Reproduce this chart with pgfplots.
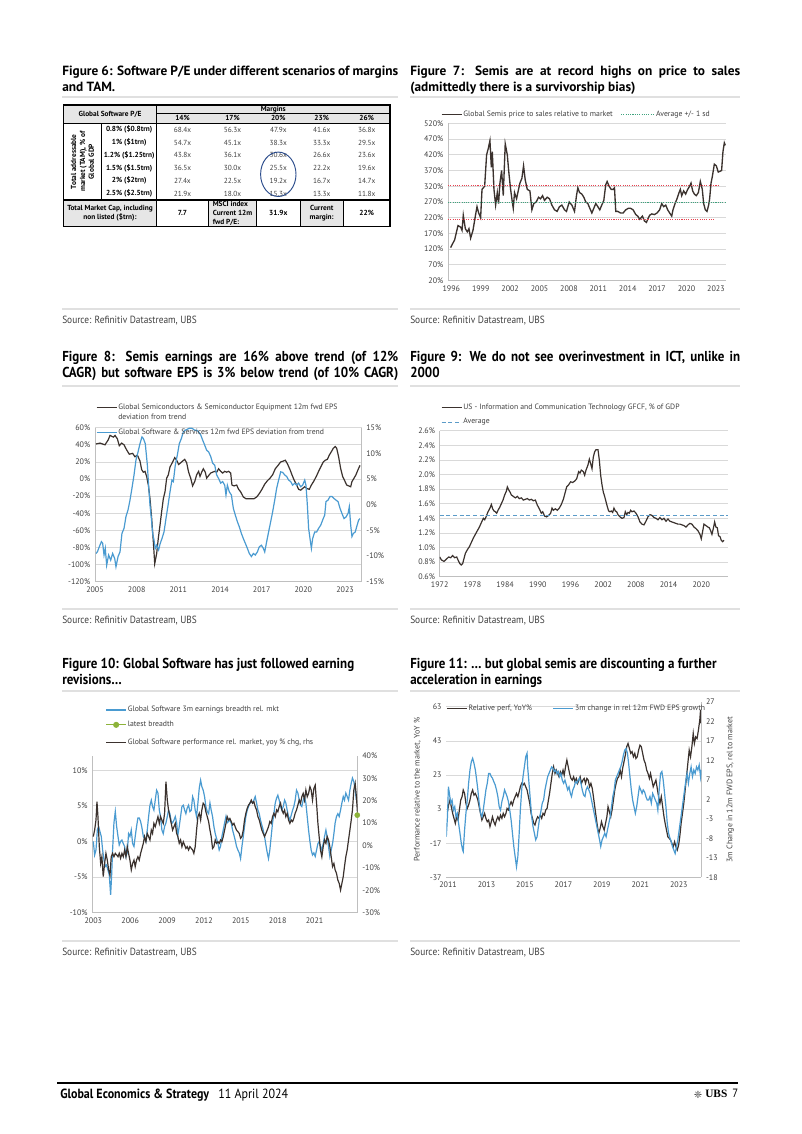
\documentclass[border=0pt]{standalone}
\usepackage{pgfplots}
\pgfplotsset{compat=1.18}
\usepackage{fontspec}
\setmainfont{PT Sans}
\newfontfamily\condfont[FakeStretch=0.9]{PT Sans}
\newfontfamily\dejavu{DejaVu Sans}
\newfontfamily\ubsfont{Liberation Serif}
\definecolor{dk}{HTML}{3B322E}
\definecolor{bl}{HTML}{4A9BD1}
\definecolor{gr}{HTML}{D9D9D9}
\definecolor{ax}{HTML}{BFBFBF}
\definecolor{tx}{HTML}{404040}
\definecolor{avgreen}{HTML}{3FA37E}
\definecolor{avred}{HTML}{E8414F}
\definecolor{lgreen}{HTML}{8DB33A}
\definecolor{avblue}{HTML}{5B9BC8}
\definecolor{hdr}{HTML}{E6E6E6}
\definecolor{circ}{HTML}{2B4C8C}
\definecolor{sep}{HTML}{E0E0E0}
\newcommand\tickfont{\fontsize{6}{7}\selectfont}
\newcommand\legfont{\fontsize{5.8}{7}\selectfont}
\newcommand\tabfont{\fontsize{5.5}{6.6}\selectfont}
\newcommand\titlefont{\fontsize{10}{12}\selectfont\bfseries}
\newcommand\ctitlefont{\condfont\fontsize{10.8}{12}\selectfont\bfseries}
\newcommand\srcfont{\condfont\fontsize{7.8}{9}\selectfont}
\pgfplotsset{
 ubs/.style={
  scale only axis,
  axis line style={draw=ax, line width=0.6pt, -},
  major tick length=0pt,
  ymajorgrids, grid style={draw=gr, line width=0.6pt},
  tick label style={font=\tickfont, text=tx},
  label style={font=\tickfont, text=tx},
  /pgf/number format/assume math mode=true,
  /pgf/number format/1000 sep={},
  legend style={draw=none, fill=none, font=\legfont, text=tx, inner sep=0pt, outer sep=0pt, nodes={inner sep=0.8pt}},
  legend cell align=left,
  legend image code/.code={\draw[##1] (0pt,0pt) -- (15pt,0pt);},
 },
 longlegend/.style={legend image code/.code={\draw[##1] (0pt,0pt) -- (25pt,0pt);}},
 dotlegend/.style={legend image code/.code={\draw[mark repeat=2,mark phase=2,##1] plot coordinates {(0pt,0pt)(7.5pt,0pt)(15pt,0pt)};}},
}
\begin{document}
\begin{tikzpicture}[x=0.75pt,y=0.75pt]
\fill[white] (0,0) rectangle (802,-1134);
% ---------- titles ----------
\node[anchor=base west, inner sep=0pt, font=\titlefont] at (62,-75.5) {\makebox[252pt][s]{Figure 6: Software P/E under different scenarios of margins}};
\node[anchor=base west, inner sep=0pt, font=\titlefont] at (62,-91.5) {and TAM.};
\node[anchor=base west, inner sep=0pt, font=\titlefont] at (410,-75.5) {\makebox[247.5pt][s]{Figure 7: Semis are at record highs on price to sales}};
\node[anchor=base west, inner sep=0pt, font=\titlefont] at (410,-91.5) {(admittedly there is a survivorship bias)};
\node[anchor=base west, inner sep=0pt, font=\ctitlefont] at (62,-361.5) {\makebox[252pt][s]{Figure 8: Semis earnings are 16\% above trend (of 12\%}};
\node[anchor=base west, inner sep=0pt, font=\ctitlefont] at (62,-377.5) {\makebox[252pt][s]{CAGR) but software EPS is 3\% below trend (of 10\% CAGR)}};
\node[anchor=base west, inner sep=0pt, font=\ctitlefont] at (410,-361.5) {\makebox[247.5pt][s]{Figure 9: We do not see overinvestment in ICT, unlike in}};
\node[anchor=base west, inner sep=0pt, font=\ctitlefont] at (410,-377.5) {2000};
\node[anchor=base west, inner sep=0pt, font=\ctitlefont] at (62,-668.5) {Figure 10: Global Software has just followed earning};
\node[anchor=base west, inner sep=0pt, font=\ctitlefont] at (62,-684.5) {revisions…};
\node[anchor=base west, inner sep=0pt, font=\ctitlefont] at (410,-668.5) {Figure 11: … but global semis are discounting a further};
\node[anchor=base west, inner sep=0pt, font=\ctitlefont] at (410,-684.5) {acceleration in earnings};
% ---------- separators ----------
\foreach \yy in {97,309,386,609,691,941}{
  \draw[sep, line width=1.1pt] (62,-\yy) -- (398,-\yy);
  \draw[sep, line width=1.1pt] (410,-\yy) -- (740,-\yy);
}
% ---------- sources ----------
\foreach \yy in {321,621,953}{
  \node[anchor=west, inner sep=0pt, font=\srcfont, text=tx] at (62,-\yy) {Source: Refinitiv Datastream, UBS};
  \node[anchor=west, inner sep=0pt, font=\srcfont, text=tx] at (410,-\yy) {Source: Refinitiv Datastream, UBS};
}
% ---------- table (Figure 6) ----------
\fill[hdr] (63.3,-105) rectangle (390,-123.3);
\fill[hdr] (63.3,-200) rectangle (156.7,-226.7);
\fill[hdr] (208.3,-200) rectangle (256.7,-226.7);
\fill[hdr] (300,-200) rectangle (343.3,-226.7);
\draw[black, line width=0.45pt] (156.7,-113.3) -- (390,-113.3);
\draw[black, line width=0.45pt] (101.7,-123.3) -- (101.7,-200);
\draw[black, line width=0.45pt] (208.3,-200) -- (208.3,-226.7);
\draw[black, line width=0.45pt] (256.7,-200) -- (256.7,-226.7);
\draw[black, line width=0.45pt] (300,-200) -- (300,-226.7);
\draw[black, line width=0.45pt] (343.3,-200) -- (343.3,-226.7);
\draw[black, line width=0.8pt] (156.7,-105) -- (156.7,-226.7);
\draw[black, line width=0.8pt] (63.3,-123.3) -- (390,-123.3);
\draw[black, line width=0.8pt] (63.3,-200) -- (390,-200);
\draw[black, line width=1pt] (63.3,-105) rectangle (390,-226.7);
\node[font=\tabfont\bfseries] at (110,-114.2) {Global Software P/E};
\node[font=\tabfont\bfseries] at (273.3,-109.2) {Margins};
\node[font=\tabfont\bfseries] at (182.5,-118.3) {14\%};
\node[font=\tabfont\bfseries] at (232.5,-118.3) {17\%};
\node[font=\tabfont\bfseries] at (278.3,-118.3) {20\%};
\node[font=\tabfont\bfseries] at (321.7,-118.3) {23\%};
\node[font=\tabfont\bfseries] at (366.7,-118.3) {26\%};
\node[font=\tabfont\bfseries, rotate=90, align=center, inner sep=0pt] at (82.5,-161.7) {Total addressable\\market (TAM), \% of\\Global GDP};
\foreach \lab/\a/\b/\c/\d/\e [count=\i from 0] in {
 {0.8\% (\$0.8trn)}/68.4x/56.3x/47.9x/41.6x/36.8x,
 {1\% (\$1trn)}/54.7x/45.1x/38.3x/33.3x/29.5x,
 {1.2\% (\$1.25trn)}/43.8x/36.1x/30.6x/26.6x/23.6x,
 {1.5\% (\$1.5trn)}/36.5x/30.0x/25.5x/22.2x/19.6x,
 {2\% (\$2trn)}/27.4x/22.5x/19.2x/16.7x/14.7x,
 {2.5\% (\$2.5trn)}/21.9x/18.0x/15.3x/13.3x/11.8x}{
  \pgfmathsetmacro\yy{-129.7-12.78*\i}
  \node[font=\tabfont\bfseries] at (129.2,\yy) {\lab};
  \node[font=\tabfont, text=tx] at (182.5,\yy) {\a};
  \node[font=\tabfont, text=tx] at (232.5,\yy) {\b};
  \node[font=\tabfont, text=tx] at (278.3,\yy) {\c};
  \node[font=\tabfont, text=tx] at (321.7,\yy) {\d};
  \node[font=\tabfont, text=tx] at (366.7,\yy) {\e};
}
\node[font=\tabfont\bfseries, align=center] at (110,-213.3) {Total Market Cap, including\\non listed (\$trn):};
\node[font=\tabfont\bfseries] at (182.5,-213.3) {7.7};
\node[font=\tabfont\bfseries, align=left] at (232.5,-213.3) {MSCI index\\Current 12m\\fwd P/E:};
\node[font=\tabfont\bfseries] at (278.3,-213.3) {31.9x};
\node[font=\tabfont\bfseries, align=center] at (321.7,-213.3) {Current\\margin:};
\node[font=\tabfont\bfseries] at (366.7,-213.3) {22\%};
\draw[circ, line width=0.7pt] (278.3,-174.3) ellipse [x radius=17.7, y radius=22.2];
% ---------- axes anchors ----------
\coordinate (f7) at (448,-123.3);
\coordinate (f8) at (95,-427.7);
\coordinate (f9) at (439.7,-430.7);
\coordinate (f10) at (92.3,-756);
\coordinate (f11) at (446.3,-701.7);
% ---------- Figure 7 ----------
\begin{axis}[ubs, at={(f7)}, anchor=north west, width=208.5pt, height=118pt,
 xmin=1995.66, xmax=2024.03, ymin=20, ymax=520,
 xtick={1996,1999,...,2023}, ytick={20,70,...,520},
 axis x line*=bottom, axis y line*=left,
 yticklabel={\pgfmathprintnumber{\tick}\%},
 legend columns=2,
 legend style={at={(-0.025,1.085)}, anchor=north west, /tikz/every even column/.append style={column sep=5pt}}]
\addplot[dk, line width=1pt] coordinates {(1995.93,125)(1996.34,150)(1996.68,195)(1996.95,190)(1997.09,180)(1997.22,228)(1997.43,185)(1997.63,175)(1997.80,185)(1997.97,155)(1998.21,180)(1998.45,225)(1998.62,255)(1998.79,235)(1998.99,220)(1999.13,310)(1999.40,320)(1999.60,420)(1999.77,440)(1999.94,465)(2000.08,380)(2000.18,430)(2000.35,310)(2000.52,260)(2000.69,300)(2000.82,265)(2000.96,330)(2001.13,370)(2001.30,290)(2001.50,455)(2001.71,420)(2001.88,360)(2002.05,310)(2002.22,270)(2002.32,250)(2002.45,300)(2002.66,280)(2002.79,300)(2003.00,330)(2003.20,345)(2003.37,385)(2003.54,340)(2003.75,310)(2004.02,305)(2004.22,245)(2004.42,265)(2004.66,270)(2004.90,285)(2005.10,280)(2005.31,290)(2005.51,275)(2005.78,285)(2006.02,280)(2006.26,260)(2006.53,245)(2006.80,240)(2007.04,255)(2007.28,260)(2007.55,245)(2007.75,240)(2008.03,270)(2008.30,260)(2008.57,240)(2008.77,290)(2008.91,315)(2009.08,300)(2009.32,295)(2009.52,285)(2009.72,270)(2009.93,265)(2010.13,250)(2010.34,235)(2010.54,250)(2010.74,265)(2010.95,255)(2011.15,245)(2011.35,260)(2011.56,275)(2011.76,325)(2011.90,335)(2012.10,320)(2012.31,310)(2012.51,310)(2012.65,315)(2012.78,240)(2012.99,240)(2013.26,235)(2013.53,235)(2013.80,245)(2014.07,250)(2014.28,250)(2014.55,245)(2014.82,230)(2015.02,225)(2015.23,215)(2015.50,225)(2015.70,210)(2015.91,205)(2016.04,215)(2016.25,228)(2016.45,232)(2016.72,230)(2016.99,235)(2017.26,245)(2017.47,265)(2017.67,255)(2017.88,260)(2018.08,245)(2018.28,235)(2018.49,225)(2018.62,245)(2018.83,265)(2019.03,280)(2019.24,300)(2019.37,310)(2019.51,290)(2019.71,305)(2019.91,295)(2020.12,310)(2020.32,320)(2020.46,330)(2020.63,305)(2020.80,295)(2021.00,290)(2021.21,300)(2021.41,335)(2021.61,310)(2021.75,265)(2021.92,245)(2022.09,240)(2022.26,260)(2022.36,280)(2022.50,330)(2022.63,350)(2022.84,390)(2023.04,385)(2023.24,365)(2023.45,368)(2023.58,370)(2023.72,430)(2023.86,458)(2023.96,450)};
\addlegendentry{Global Semis price to sales relative to market}
\addplot[avgreen, line width=0.9pt, dash pattern=on 0.8pt off 0.9pt, longlegend] coordinates {(1995.66,269)(2024.03,269)};
\addlegendentry{Average +/- 1 sd}
\addplot[avred, line width=0.9pt, dash pattern=on 0.8pt off 0.9pt, forget plot] coordinates {(1995.66,323)(2023.3,323)};
\addplot[avred, line width=0.9pt, dash pattern=on 0.8pt off 0.9pt, forget plot] coordinates {(1995.66,215)(2022.9,215)};
\end{axis}
% ---------- Figure 8 ----------
\begin{axis}[ubs, at={(f8)}, anchor=north west, width=200pt, height=115.5pt,
 xmin=2005, xmax=2024.2, ymin=-120, ymax=60,
 xtick={2005,2008,...,2023}, ytick={-120,-100,...,60},
 axis x line*=bottom, axis y line*=left,
 yticklabel={\pgfmathprintnumber{\tick}\%},
 legend style={at={(0.004,1.16)}, anchor=north west}]
\addplot[dk, line width=0.9pt] coordinates {(2005.07,41)(2005.36,42)(2005.72,40)(2005.96,46)(2006.08,51)(2006.32,49)(2006.44,51)(2006.61,47)(2006.75,39)(2006.92,42)(2007.09,40)(2007.28,34)(2007.47,29)(2007.71,30)(2007.88,26)(2008.05,28)(2008.24,21)(2008.36,11)(2008.48,8)(2008.60,9)(2008.72,3)(2008.84,-7)(2008.96,-23)(2009.08,-46)(2009.20,-73)(2009.30,-99)(2009.44,-87)(2009.56,-69)(2009.68,-54)(2009.80,-38)(2009.92,-23)(2010.04,-15)(2010.16,1)(2010.28,5)(2010.40,14)(2010.59,20)(2010.74,25)(2010.88,22)(2011.02,17)(2011.17,19)(2011.31,21)(2011.46,23)(2011.60,19)(2011.74,8)(2011.89,1)(2012.03,-8)(2012.18,-3)(2012.32,5)(2012.46,9)(2012.56,3)(2012.68,8)(2012.80,12)(2012.94,8)(2013.04,1)(2013.18,4)(2013.33,7)(2013.47,8)(2013.62,9)(2013.76,8)(2013.90,12)(2014.05,9)(2014.19,7)(2014.34,9)(2014.48,8)(2014.62,9)(2014.77,7)(2014.86,-7)(2015.01,-8)(2015.20,-7)(2015.34,-12)(2015.49,-15)(2015.68,-21)(2015.87,-23)(2016.06,-23)(2016.26,-23)(2016.45,-23)(2016.64,-21)(2016.83,-17)(2017.02,-12)(2017.22,-6)(2017.41,-2)(2017.60,1)(2017.79,5)(2017.98,12)(2018.18,16)(2018.37,20)(2018.56,21)(2018.70,22)(2018.85,18)(2019.04,11)(2019.18,5)(2019.33,-1)(2019.52,-7)(2019.66,-12)(2019.81,-13)(2019.95,-11)(2020.10,-9)(2020.24,-11)(2020.43,-12)(2020.58,-7)(2020.77,-2)(2020.96,4)(2021.10,9)(2021.25,14)(2021.44,20)(2021.58,22)(2021.73,23)(2021.87,28)(2022.02,32)(2022.16,36)(2022.30,38)(2022.40,36)(2022.54,26)(2022.69,12)(2022.83,3)(2022.98,-2)(2023.12,-7)(2023.26,-8)(2023.41,-9)(2023.50,-3)(2023.65,1)(2023.79,5)(2023.94,11)(2024.08,16)};
\addlegendentry{Global Semiconductors \& Semiconductor Equipment 12m fwd EPS}
\addlegendimage{empty legend}
\addlegendentry{deviation from trend}
\end{axis}
\begin{axis}[ubs, at={(f8)}, anchor=north west, width=200pt, height=115.5pt,
 xmin=2005, xmax=2024.2, ymin=-15, ymax=15, ymajorgrids=false,
 ytick={-15,-10,...,15},
 axis x line=none, axis y line*=right,
 yticklabel={\pgfmathprintnumber{\tick}\%},
 legend style={at={(0.004,1.0)}, anchor=north west}]
\addplot[bl, line width=0.9pt] coordinates {(2005.07,-9.5)(2005.17,-9.2)(2005.31,-8.2)(2005.46,-7.2)(2005.55,-7.5)(2005.65,-9.8)(2005.74,-8.5)(2005.84,-11.8)(2005.98,-9.8)(2006.13,-10.8)(2006.27,-9.5)(2006.42,-10.5)(2006.51,-12.1)(2006.66,-10.1)(2006.80,-9.2)(2006.94,-5.6)(2007.09,-4.6)(2007.23,-2.3)(2007.38,-1.0)(2007.52,0.9)(2007.66,3.2)(2007.81,5.8)(2007.95,8.7)(2008.10,10.3)(2008.24,11.9)(2008.38,13.2)(2008.48,12.9)(2008.62,11.9)(2008.77,7.7)(2008.86,3.8)(2008.96,-0.1)(2009.06,-2.7)(2009.15,-5.6)(2009.25,-6.9)(2009.34,-8.5)(2009.44,-7.9)(2009.58,-8.8)(2009.68,-7.7)(2009.82,-6.6)(2009.97,-5.3)(2010.11,-2.7)(2010.26,-0.1)(2010.40,2.5)(2010.54,4.8)(2010.64,4.5)(2010.78,7.7)(2010.93,9.7)(2011.07,11.9)(2011.22,12.9)(2011.36,14.2)(2011.50,14.5)(2011.65,14.7)(2011.79,14.9)(2011.98,14.9)(2012.18,14.5)(2012.32,14.5)(2012.46,14.2)(2012.61,13.6)(2012.75,12.6)(2012.90,11.6)(2013.04,10.6)(2013.18,10.3)(2013.33,9.4)(2013.47,8.1)(2013.62,7.7)(2013.76,5.8)(2013.90,5.1)(2014.05,4.2)(2014.19,4.5)(2014.34,3.8)(2014.43,1.9)(2014.53,3.8)(2014.67,2.5)(2014.82,1.9)(2014.96,-0.7)(2015.10,-2.0)(2015.25,-3.3)(2015.39,-4.3)(2015.54,-5.6)(2015.68,-6.6)(2015.82,-7.5)(2015.97,-8.5)(2016.11,-9.5)(2016.26,-10.1)(2016.40,-9.5)(2016.54,-9.8)(2016.69,-9.2)(2016.83,-8.2)(2016.98,-7.9)(2017.12,-8.5)(2017.22,-9.2)(2017.36,-7.2)(2017.50,-5.3)(2017.65,-3.3)(2017.79,-1.4)(2017.94,0.9)(2018.08,3.2)(2018.22,4.8)(2018.37,6.4)(2018.51,6.3)(2018.66,5.8)(2018.80,5.5)(2018.94,4.8)(2019.09,4.5)(2019.23,3.8)(2019.38,4.2)(2019.52,3.8)(2019.66,4.2)(2019.81,3.5)(2019.95,3.8)(2020.10,4.8)(2020.19,3.8)(2020.29,-0.1)(2020.38,-4.6)(2020.48,-6.6)(2020.58,-8.5)(2020.67,-6.6)(2020.82,-5.3)(2020.96,-5.3)(2021.10,-4.6)(2021.25,-4.0)(2021.39,-3.0)(2021.54,-2.0)(2021.63,0.6)(2021.78,0.9)(2021.92,1.6)(2022.06,1.6)(2022.21,1.2)(2022.35,0.9)(2022.50,0.6)(2022.64,-0.7)(2022.78,-1.7)(2022.93,-2.7)(2023.07,-2.4)(2023.22,-1.7)(2023.31,-0.4)(2023.41,-4.0)(2023.50,-6.2)(2023.60,-5.6)(2023.74,-5.3)(2023.84,-4.3)(2023.98,-3.0)(2024.08,-2.7)};
\addlegendentry{Global Software \& Services 12m fwd EPS deviation from trend}
\end{axis}
% ---------- Figure 9 ----------
\begin{axis}[ubs, at={(f9)}, anchor=north west, width=216.2pt, height=109.5pt,
 xmin=1972, xmax=2024.9, ymin=0.6, ymax=2.6,
 xtick={1972,1978,...,2020}, ytick={0.6,0.8,1.0,1.2,1.4,1.6,1.8,2.0,2.2,2.4,2.6},
 axis x line*=bottom, axis y line*=left,
 yticklabel={\pgfmathprintnumber[fixed,fixed zerofill,precision=1]{\tick}\%},
 legend style={at={(0.005,1.19)}, anchor=north west, row sep=3.5pt}]
\addplot[dk, line width=0.9pt] coordinates {(1972.00,0.87)(1972.31,0.83)(1972.79,0.81)(1973.22,0.84)(1973.65,0.87)(1974.02,0.86)(1974.38,0.89)(1974.75,0.86)(1975.12,0.87)(1975.36,0.83)(1975.67,0.78)(1975.97,0.76)(1976.22,0.78)(1976.46,0.85)(1976.71,0.92)(1977.08,0.97)(1977.44,1.01)(1977.81,1.07)(1978.18,1.13)(1978.54,1.18)(1978.91,1.23)(1979.28,1.28)(1979.64,1.34)(1980.01,1.40)(1980.26,1.38)(1980.50,1.42)(1980.87,1.49)(1981.23,1.54)(1981.48,1.59)(1981.72,1.53)(1981.97,1.50)(1982.21,1.49)(1982.46,1.47)(1982.70,1.51)(1983.01,1.55)(1983.31,1.60)(1983.62,1.65)(1983.92,1.72)(1984.23,1.77)(1984.41,1.83)(1984.66,1.79)(1984.90,1.76)(1985.15,1.72)(1985.51,1.70)(1985.88,1.68)(1986.25,1.70)(1986.61,1.67)(1986.98,1.68)(1987.35,1.65)(1987.72,1.66)(1988.08,1.67)(1988.45,1.65)(1988.82,1.66)(1989.18,1.64)(1989.55,1.65)(1989.92,1.58)(1990.28,1.53)(1990.65,1.47)(1990.90,1.49)(1991.26,1.43)(1991.63,1.42)(1992.00,1.44)(1992.36,1.47)(1992.61,1.54)(1992.85,1.51)(1993.22,1.53)(1993.59,1.51)(1993.95,1.54)(1994.32,1.59)(1994.69,1.66)(1995.05,1.76)(1995.30,1.83)(1995.67,1.86)(1996.03,1.90)(1996.40,1.89)(1996.77,1.91)(1997.13,1.94)(1997.50,2.04)(1997.74,2.02)(1997.99,2.06)(1998.36,2.04)(1998.60,1.99)(1998.85,2.06)(1999.21,2.13)(1999.46,2.21)(1999.70,2.15)(1999.95,2.08)(2000.19,2.24)(2000.43,2.31)(2000.68,2.34)(2001.05,2.34)(2001.29,2.20)(2001.54,1.99)(2001.78,1.86)(2002.02,1.76)(2002.27,1.70)(2002.51,1.63)(2002.76,1.56)(2003.00,1.50)(2003.25,1.49)(2003.49,1.50)(2003.74,1.48)(2003.98,1.54)(2004.23,1.50)(2004.47,1.49)(2004.72,1.45)(2005.08,1.42)(2005.45,1.40)(2005.82,1.41)(2006.06,1.49)(2006.31,1.45)(2006.55,1.48)(2006.80,1.47)(2007.04,1.51)(2007.29,1.49)(2007.65,1.50)(2008.02,1.47)(2008.39,1.42)(2008.75,1.35)(2009.12,1.32)(2009.49,1.31)(2009.85,1.36)(2010.22,1.42)(2010.59,1.45)(2010.95,1.44)(2011.32,1.41)(2011.69,1.40)(2012.05,1.38)(2012.42,1.41)(2012.79,1.38)(2013.15,1.40)(2013.52,1.36)(2013.89,1.39)(2014.26,1.36)(2014.62,1.35)(2014.99,1.34)(2015.36,1.33)(2015.72,1.32)(2016.09,1.32)(2016.46,1.31)(2016.82,1.30)(2017.19,1.28)(2017.56,1.31)(2017.92,1.33)(2018.29,1.32)(2018.66,1.28)(2019.02,1.26)(2019.39,1.23)(2019.76,1.18)(2020.00,1.12)(2020.25,1.22)(2020.49,1.32)(2020.86,1.30)(2021.23,1.28)(2021.47,1.27)(2021.72,1.23)(2021.96,1.18)(2022.21,1.26)(2022.45,1.35)(2022.69,1.28)(2022.94,1.27)(2023.18,1.16)(2023.43,1.15)(2023.67,1.10)(2023.92,1.08)(2024.16,1.10)};
\addlegendentry{US - Information and Communication Technology GFCF, \% of GDP}
\addplot[avblue, line width=0.8pt, dash pattern=on 3pt off 2pt] coordinates {(1972,1.44)(2024.9,1.44)};
\addlegendentry{Average}
\end{axis}
% ---------- Figure 10 ----------
\begin{axis}[ubs, at={(f10)}, anchor=north west, width=199pt, height=117.5pt,
 xmin=2002.92, xmax=2024.5, ymin=-10, ymax=12,
 xtick={2003,2006,...,2021}, ytick={-10,-5,...,10},
 axis x line*=bottom, axis y line*=left,
 yticklabel={\pgfmathprintnumber{\tick}\%},
 legend style={at={(0.05,1.325)}, anchor=north west, row sep=4pt}]
\addplot[bl, line width=0.9pt] coordinates {(2003.00,0)(2003.11,-1.9)(2003.22,-1.2)(2003.33,1.6)(2003.43,2.1)(2003.54,1.4)(2003.65,0.7)(2003.76,-1.2)(2003.87,-2.6)(2003.98,-3.5)(2004.08,-3.3)(2004.19,-4.0)(2004.30,-4.7)(2004.41,-7.5)(2004.49,-4.9)(2004.57,-1.2)(2004.68,2.6)(2004.79,4.2)(2004.90,2.1)(2005.01,0.7)(2005.11,-0.5)(2005.22,0)(2005.33,0.2)(2005.44,-0.3)(2005.55,-0.7)(2005.66,-2.1)(2005.76,-1.6)(2005.87,1.1)(2005.98,0.7)(2006.09,1.6)(2006.20,-0.3)(2006.31,-0.7)(2006.41,0.7)(2006.52,2.1)(2006.63,3.3)(2006.74,3.3)(2006.85,2.8)(2006.96,1.9)(2007.07,0.7)(2007.17,0.4)(2007.28,0)(2007.39,1.6)(2007.50,3.5)(2007.61,5.1)(2007.72,5.8)(2007.82,4.9)(2007.93,4.4)(2008.04,5.8)(2008.15,7.2)(2008.26,6.8)(2008.37,4.4)(2008.47,3.5)(2008.58,1.6)(2008.69,1.1)(2008.80,2.1)(2008.91,2.6)(2009.02,3.5)(2009.12,4.4)(2009.23,3.9)(2009.34,2.8)(2009.45,2.6)(2009.56,3.0)(2009.67,3.5)(2009.78,2.6)(2009.88,0.9)(2009.99,2.1)(2010.10,3.5)(2010.21,4.9)(2010.32,5.1)(2010.43,4.4)(2010.53,3.9)(2010.64,4.7)(2010.75,5.1)(2010.86,4.2)(2010.97,4.4)(2011.08,6.3)(2011.18,5.8)(2011.29,4.4)(2011.40,3.5)(2011.51,5.4)(2011.62,7.5)(2011.73,8.6)(2011.83,7.7)(2011.94,7.2)(2012.05,6.3)(2012.16,4.9)(2012.27,4.2)(2012.38,3.9)(2012.49,5.4)(2012.59,4.4)(2012.70,3.5)(2012.81,2.1)(2012.92,1.1)(2013.03,0.4)(2013.14,-0.3)(2013.24,-1.2)(2013.35,-0.7)(2013.46,0.7)(2013.57,1.6)(2013.68,2.6)(2013.79,3.5)(2013.89,2.6)(2014.00,2.8)(2014.11,3.0)(2014.22,2.6)(2014.33,1.6)(2014.44,0.9)(2014.54,0.2)(2014.65,-0.7)(2014.76,-1.2)(2014.87,-1.6)(2014.98,-2.4)(2015.09,-0.7)(2015.20,0.7)(2015.30,2.1)(2015.41,3.5)(2015.52,4.4)(2015.63,4.9)(2015.74,5.4)(2015.85,5.6)(2015.95,5.4)(2016.06,5.8)(2016.17,6.3)(2016.28,5.4)(2016.39,4.4)(2016.50,3.9)(2016.60,3.0)(2016.71,2.3)(2016.82,1.6)(2016.93,0.7)(2017.04,-0.5)(2017.15,-1.6)(2017.25,-2.4)(2017.36,-1.2)(2017.47,0.7)(2017.58,2.6)(2017.69,3.9)(2017.80,5.4)(2017.91,6.1)(2018.01,6.5)(2018.12,5.8)(2018.23,4.9)(2018.34,4.4)(2018.45,4.9)(2018.56,5.8)(2018.66,5.4)(2018.77,4.4)(2018.88,3.5)(2018.99,3.0)(2019.10,3.7)(2019.21,4.4)(2019.31,4.9)(2019.42,5.8)(2019.53,7.2)(2019.64,6.8)(2019.75,5.8)(2019.86,5.1)(2019.96,4.9)(2020.07,5.8)(2020.18,6.3)(2020.29,5.4)(2020.40,3.5)(2020.51,1.6)(2020.62,0)(2020.72,-1.2)(2020.83,-1.9)(2020.94,-1.6)(2021.05,-2.1)(2021.16,-1.2)(2021.27,-0.3)(2021.37,0)(2021.48,-0.7)(2021.59,-1.2)(2021.70,-0.3)(2021.81,0.7)(2021.92,1.6)(2022.02,0.7)(2022.13,-0.7)(2022.24,-2.1)(2022.35,-1.2)(2022.46,-0.3)(2022.57,1.1)(2022.67,2.6)(2022.78,3.5)(2022.89,3.9)(2023.00,3.5)(2023.11,4.4)(2023.22,5.4)(2023.33,6.3)(2023.43,5.8)(2023.54,6.8)(2023.65,6.3)(2023.76,5.8)(2023.87,7.2)(2023.98,8.2)(2024.08,8.9)(2024.19,8.4)(2024.30,7.2)(2024.40,5.8)};
\addlegendentry{Global Software 3m earnings breadth rel. mkt}
\addlegendimage{lgreen, line width=0.9pt, mark=*, mark size=1.8pt, dotlegend}
\addlegendentry{latest breadth}
\end{axis}
\begin{axis}[ubs, at={(f10)}, anchor=north west, width=199pt, height=117.5pt,
 xmin=2002.92, xmax=2024.5, ymin=-30, ymax=40, ymajorgrids=false,
 ytick={-30,-20,...,40},
 axis x line=none, axis y line*=right,
 yticklabel={\pgfmathprintnumber{\tick}\%},
 legend style={at={(0.05,1.115)}, anchor=north west}]
\addplot[dk, line width=0.9pt] coordinates {(2003.00,4.0)(2003.11,6.9)(2003.22,11.4)(2003.30,19.6)(2003.38,12.9)(2003.49,-0.5)(2003.60,-8.0)(2003.70,-5.0)(2003.81,-13.9)(2003.92,-8.0)(2004.03,-3.5)(2004.14,-6.5)(2004.25,-10.9)(2004.36,-13.2)(2004.46,-5.0)(2004.57,-3.5)(2004.68,-5.0)(2004.79,-3.5)(2004.90,-4.2)(2005.01,-5.0)(2005.11,-3.5)(2005.22,-5.7)(2005.33,-3.5)(2005.44,-5.0)(2005.55,-2.0)(2005.66,-5.0)(2005.76,-0.5)(2005.87,-3.5)(2005.98,-6.5)(2006.09,-10.9)(2006.20,-8.0)(2006.31,-6.5)(2006.41,-9.4)(2006.52,-6.5)(2006.63,-5.0)(2006.74,-6.5)(2006.85,-3.5)(2006.96,-1.3)(2007.07,1.0)(2007.17,4.0)(2007.28,1.7)(2007.39,5.4)(2007.50,4.0)(2007.61,2.5)(2007.72,6.9)(2007.82,5.4)(2007.93,9.9)(2008.04,8.4)(2008.15,10.7)(2008.26,12.9)(2008.37,9.9)(2008.47,12.9)(2008.58,11.4)(2008.69,9.9)(2008.80,14.4)(2008.91,28.5)(2009.02,20.3)(2009.12,15.9)(2009.23,12.9)(2009.34,9.9)(2009.45,6.9)(2009.56,8.4)(2009.67,9.9)(2009.78,5.4)(2009.88,4.0)(2009.99,1.0)(2010.10,2.5)(2010.21,-0.5)(2010.32,1.7)(2010.43,0.2)(2010.53,-1.3)(2010.64,-0.5)(2010.75,-2.0)(2010.86,-0.5)(2010.97,-1.3)(2011.08,-2.0)(2011.18,-3.5)(2011.29,-0.5)(2011.40,6.9)(2011.51,12.9)(2011.62,14.4)(2011.73,11.4)(2011.83,15.9)(2011.94,18.9)(2012.05,18.1)(2012.16,15.1)(2012.27,12.9)(2012.38,10.7)(2012.49,6.9)(2012.59,4.0)(2012.70,-1.3)(2012.81,-0.5)(2012.92,2.5)(2013.03,1.0)(2013.14,1.7)(2013.24,1.0)(2013.35,2.5)(2013.46,1.7)(2013.57,4.0)(2013.68,6.9)(2013.79,9.9)(2013.89,12.9)(2014.00,11.4)(2014.11,12.1)(2014.22,10.7)(2014.33,9.2)(2014.44,9.9)(2014.54,8.4)(2014.65,6.9)(2014.76,6.2)(2014.87,5.4)(2014.98,3.2)(2015.09,4.0)(2015.20,6.9)(2015.30,11.4)(2015.41,14.4)(2015.52,16.6)(2015.63,18.1)(2015.74,18.9)(2015.85,20.3)(2015.95,18.9)(2016.06,19.6)(2016.17,17.4)(2016.28,15.9)(2016.39,12.9)(2016.50,11.4)(2016.60,9.2)(2016.71,6.9)(2016.82,5.4)(2016.93,4.0)(2017.04,5.4)(2017.15,6.9)(2017.25,8.4)(2017.36,10.7)(2017.47,9.9)(2017.58,12.9)(2017.69,14.4)(2017.80,12.9)(2017.91,15.9)(2018.01,15.1)(2018.12,17.4)(2018.23,18.9)(2018.34,15.9)(2018.45,14.4)(2018.56,15.9)(2018.66,12.9)(2018.77,14.4)(2018.88,11.4)(2018.99,9.9)(2019.10,11.4)(2019.21,10.7)(2019.31,12.1)(2019.42,14.4)(2019.53,15.9)(2019.64,18.1)(2019.75,20.3)(2019.86,18.9)(2019.96,21.8)(2020.07,23.3)(2020.18,20.3)(2020.29,24.8)(2020.40,21.8)(2020.51,23.3)(2020.62,26.3)(2020.72,24.8)(2020.83,20.3)(2020.94,25.5)(2021.05,27.0)(2021.16,18.9)(2021.27,9.9)(2021.37,4.0)(2021.48,-2.0)(2021.59,-5.0)(2021.70,-0.5)(2021.81,2.5)(2021.92,1.0)(2022.02,4.0)(2022.13,2.5)(2022.24,-0.5)(2022.35,-5.0)(2022.46,-9.4)(2022.57,-8.0)(2022.67,-10.9)(2022.78,-12.4)(2022.89,-15.4)(2023.00,-16.9)(2023.11,-19.9)(2023.22,-16.9)(2023.33,-13.9)(2023.43,-9.4)(2023.54,-5.0)(2023.65,-2.0)(2023.76,2.5)(2023.87,6.9)(2023.98,11.4)(2024.08,15.9)(2024.19,24.8)(2024.30,27.8)(2024.40,21.8)(2024.49,14.4)};
\addlegendentry{Global Software performance rel. market, yoy \% chg, rhs}
\end{axis}
\begin{axis}[ubs, at={(f10)}, anchor=north west, width=199pt, height=117.5pt,
 xmin=2002.92, xmax=2024.5, ymin=-10, ymax=12, ymajorgrids=false,
 axis lines=none, xtick=\empty, ytick=\empty, clip=false]
\addplot[lgreen, only marks, mark=*, mark size=1.9pt] coordinates {(2024.47,3.7)};
\end{axis}
% ---------- Figure 11 ----------
\begin{axis}[ubs, at={(f11)}, anchor=north west, width=191.25pt, height=131.7pt,
 xmin=2010.91, xmax=2024.17, ymin=-37, ymax=66,
 xtick={2011,2013,...,2023}, ytick={-37,-17,3,23,43,63},
 axis x line*=bottom, axis y line*=left, y axis line style={draw=none},
 ylabel={Performance relative to the market, YoY \%},
 legend style={at={(0,0.987)}, anchor=north west}]
\addplot[dk, line width=0.9pt] coordinates {(2010.97,1.5)(2011.03,5.4)(2011.10,8.3)(2011.17,4.4)(2011.24,0.5)(2011.31,-2.4)(2011.38,-5.4)(2011.45,-1.5)(2011.52,-3.4)(2011.59,2.5)(2011.66,8.3)(2011.73,10.3)(2011.79,14.2)(2011.86,12.2)(2011.93,6.4)(2012.00,3.4)(2012.07,5.4)(2012.14,8.3)(2012.21,12.2)(2012.28,14.2)(2012.35,11.2)(2012.42,12.2)(2012.49,10.3)(2012.55,8.3)(2012.62,4.4)(2012.69,0.5)(2012.76,-3.4)(2012.83,-1.5)(2012.90,0.5)(2012.97,-2.4)(2013.04,-4.4)(2013.11,-3.4)(2013.18,-7.3)(2013.25,-4.4)(2013.31,-1.5)(2013.38,-4.4)(2013.45,-6.3)(2013.52,-3.4)(2013.59,-1.5)(2013.66,-3.4)(2013.73,-0.5)(2013.80,-2.4)(2013.87,0.5)(2013.94,-1.5)(2014.01,0.5)(2014.07,3.4)(2014.14,2.5)(2014.21,5.4)(2014.28,7.3)(2014.35,5.4)(2014.42,8.3)(2014.49,10.3)(2014.56,12.2)(2014.63,10.3)(2014.70,13.2)(2014.76,16.1)(2014.83,18.1)(2014.90,17.2)(2014.97,18.1)(2015.04,16.1)(2015.11,14.2)(2015.18,10.3)(2015.25,6.4)(2015.32,0.5)(2015.39,-2.4)(2015.46,-5.4)(2015.52,-6.3)(2015.59,-3.4)(2015.66,-1.5)(2015.73,-2.4)(2015.80,-0.5)(2015.87,-2.4)(2015.94,0.5)(2016.01,-0.5)(2016.08,2.5)(2016.15,3.4)(2016.22,8.3)(2016.28,12.2)(2016.35,18.1)(2016.42,23.9)(2016.49,27.8)(2016.56,23.9)(2016.63,25.9)(2016.70,23.9)(2016.77,22.0)(2016.84,24.9)(2016.91,22.9)(2016.98,25.9)(2017.04,22.9)(2017.11,27.8)(2017.18,31.8)(2017.25,27.8)(2017.32,23.9)(2017.39,21.0)(2017.46,20.0)(2017.53,22.0)(2017.60,19.1)(2017.67,21.0)(2017.74,18.1)(2017.80,20.0)(2017.87,22.0)(2017.94,18.1)(2018.01,20.0)(2018.08,21.0)(2018.15,18.1)(2018.22,21.0)(2018.29,20.0)(2018.36,16.1)(2018.43,18.1)(2018.50,15.1)(2018.56,10.3)(2018.63,4.4)(2018.70,-1.5)(2018.77,-7.3)(2018.84,-11.2)(2018.91,-8.3)(2018.98,-4.4)(2019.05,-7.3)(2019.12,-9.3)(2019.19,-5.4)(2019.26,-1.5)(2019.32,4.4)(2019.39,1.5)(2019.46,-1.5)(2019.53,2.5)(2019.60,8.3)(2019.67,14.2)(2019.74,18.1)(2019.81,21.0)(2019.88,22.0)(2019.95,25.9)(2020.02,22.0)(2020.08,26.9)(2020.15,30.8)(2020.22,34.7)(2020.29,39.6)(2020.36,41.5)(2020.43,38.6)(2020.50,35.7)(2020.57,36.7)(2020.64,33.7)(2020.71,35.7)(2020.77,32.7)(2020.84,33.7)(2020.91,37.6)(2020.98,40.5)(2021.05,39.6)(2021.12,35.7)(2021.19,31.8)(2021.26,29.8)(2021.33,25.9)(2021.40,23.9)(2021.47,21.0)(2021.53,23.9)(2021.60,20.0)(2021.67,16.1)(2021.74,18.1)(2021.81,20.0)(2021.88,15.1)(2021.95,10.3)(2022.02,6.4)(2022.09,10.3)(2022.16,4.4)(2022.23,-1.5)(2022.29,-5.4)(2022.36,-9.3)(2022.43,-13.2)(2022.50,-14.1)(2022.57,-15.1)(2022.64,-17.1)(2022.71,-19.0)(2022.78,-16.1)(2022.85,-19.0)(2022.92,-21.0)(2022.99,-18.1)(2023.05,-13.2)(2023.12,-5.4)(2023.19,0.5)(2023.26,6.4)(2023.33,14.2)(2023.40,22.0)(2023.47,29.8)(2023.54,37.6)(2023.61,33.7)(2023.68,39.6)(2023.75,47.4)(2023.81,41.5)(2023.88,45.4)(2023.95,44.4)(2024.02,49.3)(2024.09,55.2)(2024.13,61.0)(2024.16,53.2)};
\addlegendentry{Relative perf, YoY\%}
\end{axis}
\begin{axis}[ubs, at={(f11)}, anchor=north west, width=191.25pt, height=131.7pt,
 xmin=2010.91, xmax=2024.17, ymin=-18, ymax=27, ymajorgrids=false,
 ytick={-18,-13,...,27},
 axis x line=none, axis y line*=right,
 ylabel={3m Change in 12m FWD EPS, rel to market},
 legend style={at={(0.418,0.987)}, anchor=north west}]
\addplot[bl, line width=0.9pt] coordinates {(2010.91,-7.6)(2010.97,-2.5)(2011.02,5.2)(2011.07,3.5)(2011.14,1.0)(2011.21,1.8)(2011.28,-0.8)(2011.35,0.1)(2011.41,-2.5)(2011.48,-1.6)(2011.55,-4.2)(2011.62,-6.7)(2011.69,-9.3)(2011.76,-11.0)(2011.79,-11.4)(2011.86,-5.9)(2011.93,-1.6)(2012.00,1.8)(2012.07,6.1)(2012.14,9.5)(2012.21,11.6)(2012.28,12.5)(2012.35,11.2)(2012.42,9.5)(2012.49,6.9)(2012.55,4.4)(2012.62,1.0)(2012.69,-1.6)(2012.76,-2.5)(2012.83,-0.8)(2012.90,1.8)(2012.97,4.4)(2013.04,6.1)(2013.11,8.6)(2013.18,8.6)(2013.25,7.8)(2013.31,7.4)(2013.38,6.5)(2013.45,5.7)(2013.52,4.4)(2013.59,2.7)(2013.66,0.1)(2013.73,-0.8)(2013.80,1.4)(2013.87,2.7)(2013.94,4.4)(2014.01,3.5)(2014.07,2.7)(2014.14,1.4)(2014.21,-0.8)(2014.28,-3.3)(2014.35,-6.7)(2014.42,-10.1)(2014.49,-12.7)(2014.56,-15.3)(2014.63,-12.7)(2014.70,-6.7)(2014.76,-0.8)(2014.83,4.4)(2014.90,7.8)(2014.97,10.3)(2015.04,12.9)(2015.11,13.8)(2015.14,10.3)(2015.21,6.1)(2015.28,1.8)(2015.35,-2.5)(2015.42,-5.0)(2015.49,-6.7)(2015.56,-8.4)(2015.63,-7.6)(2015.70,-5.0)(2015.77,-2.5)(2015.84,-0.8)(2015.90,1.0)(2015.97,1.8)(2016.04,4.4)(2016.11,6.1)(2016.18,7.8)(2016.25,8.6)(2016.32,9.5)(2016.39,10.3)(2016.46,9.9)(2016.53,9.1)(2016.60,9.5)(2016.66,8.6)(2016.73,9.1)(2016.80,7.8)(2016.87,8.6)(2016.94,6.9)(2017.01,6.1)(2017.08,6.9)(2017.15,5.7)(2017.22,4.4)(2017.29,5.2)(2017.36,3.5)(2017.42,2.7)(2017.49,4.4)(2017.56,5.2)(2017.63,6.5)(2017.70,6.1)(2017.77,6.9)(2017.84,7.4)(2017.91,6.1)(2017.98,4.4)(2018.05,3.1)(2018.12,2.7)(2018.18,4.4)(2018.25,5.2)(2018.32,4.4)(2018.39,3.5)(2018.46,1.8)(2018.53,0.1)(2018.60,-1.6)(2018.67,-3.3)(2018.74,-5.0)(2018.81,-6.7)(2018.88,-8.4)(2018.94,-10.1)(2019.01,-8.4)(2019.08,-7.6)(2019.15,-6.7)(2019.22,-7.6)(2019.29,-5.9)(2019.36,-4.2)(2019.43,-2.5)(2019.50,0.1)(2019.57,2.7)(2019.64,4.4)(2019.70,6.9)(2019.77,7.8)(2019.84,8.6)(2019.91,9.5)(2019.98,10.3)(2020.05,11.6)(2020.12,13.3)(2020.19,14.6)(2020.26,15.0)(2020.33,13.8)(2020.39,11.2)(2020.46,7.8)(2020.53,4.4)(2020.60,1.8)(2020.67,0.1)(2020.74,-1.6)(2020.81,0.1)(2020.88,2.7)(2020.95,5.2)(2021.02,4.4)(2021.09,3.5)(2021.15,4.4)(2021.22,3.9)(2021.29,2.7)(2021.36,1.8)(2021.43,1.8)(2021.50,2.7)(2021.57,1.0)(2021.64,3.5)(2021.71,2.7)(2021.78,1.8)(2021.85,1.0)(2021.91,-0.8)(2021.98,4.4)(2022.05,8.6)(2022.12,9.1)(2022.19,6.9)(2022.26,3.5)(2022.33,0.1)(2022.40,-4.2)(2022.47,-6.7)(2022.54,-8.0)(2022.61,-8.9)(2022.67,-10.1)(2022.74,-11.0)(2022.81,-11.9)(2022.88,-10.1)(2022.95,-8.4)(2023.02,-5.9)(2023.09,-3.3)(2023.16,-0.8)(2023.23,1.8)(2023.30,4.4)(2023.37,6.9)(2023.43,8.6)(2023.50,6.1)(2023.57,8.6)(2023.64,10.3)(2023.71,7.8)(2023.78,9.5)(2023.85,8.6)(2023.92,10.3)(2023.99,9.5)(2024.06,10.8)(2024.13,7.8)(2024.16,9.5)};
\addlegendentry{3m change in rel 12m FWD EPS growth}
\end{axis}
% ---------- footer ----------
\draw[black, line width=0.8pt] (57,-1083) -- (738,-1083);
\node[anchor=base west, inner sep=0pt, font=\condfont\fontsize{10}{12}\selectfont\bfseries] at (60,-1098) {Global Economics \& Strategy};
\node[anchor=base west, inner sep=0pt, font=\condfont\fontsize{10}{12}\selectfont] at (218,-1098) {11 April 2024};
\node[anchor=center, inner sep=0pt, font=\dejavu\fontsize{7.5}{8}\selectfont, text=tx] at (698,-1094.5) {❈};
\node[anchor=base west, inner sep=0pt, font=\ubsfont\fontsize{8.5}{10}\selectfont\bfseries] at (705,-1097.5) {UBS};
\node[anchor=base west, inner sep=0pt, font=\condfont\fontsize{9}{10}\selectfont] at (732,-1097.5) {7};
\end{tikzpicture}
\end{document}
